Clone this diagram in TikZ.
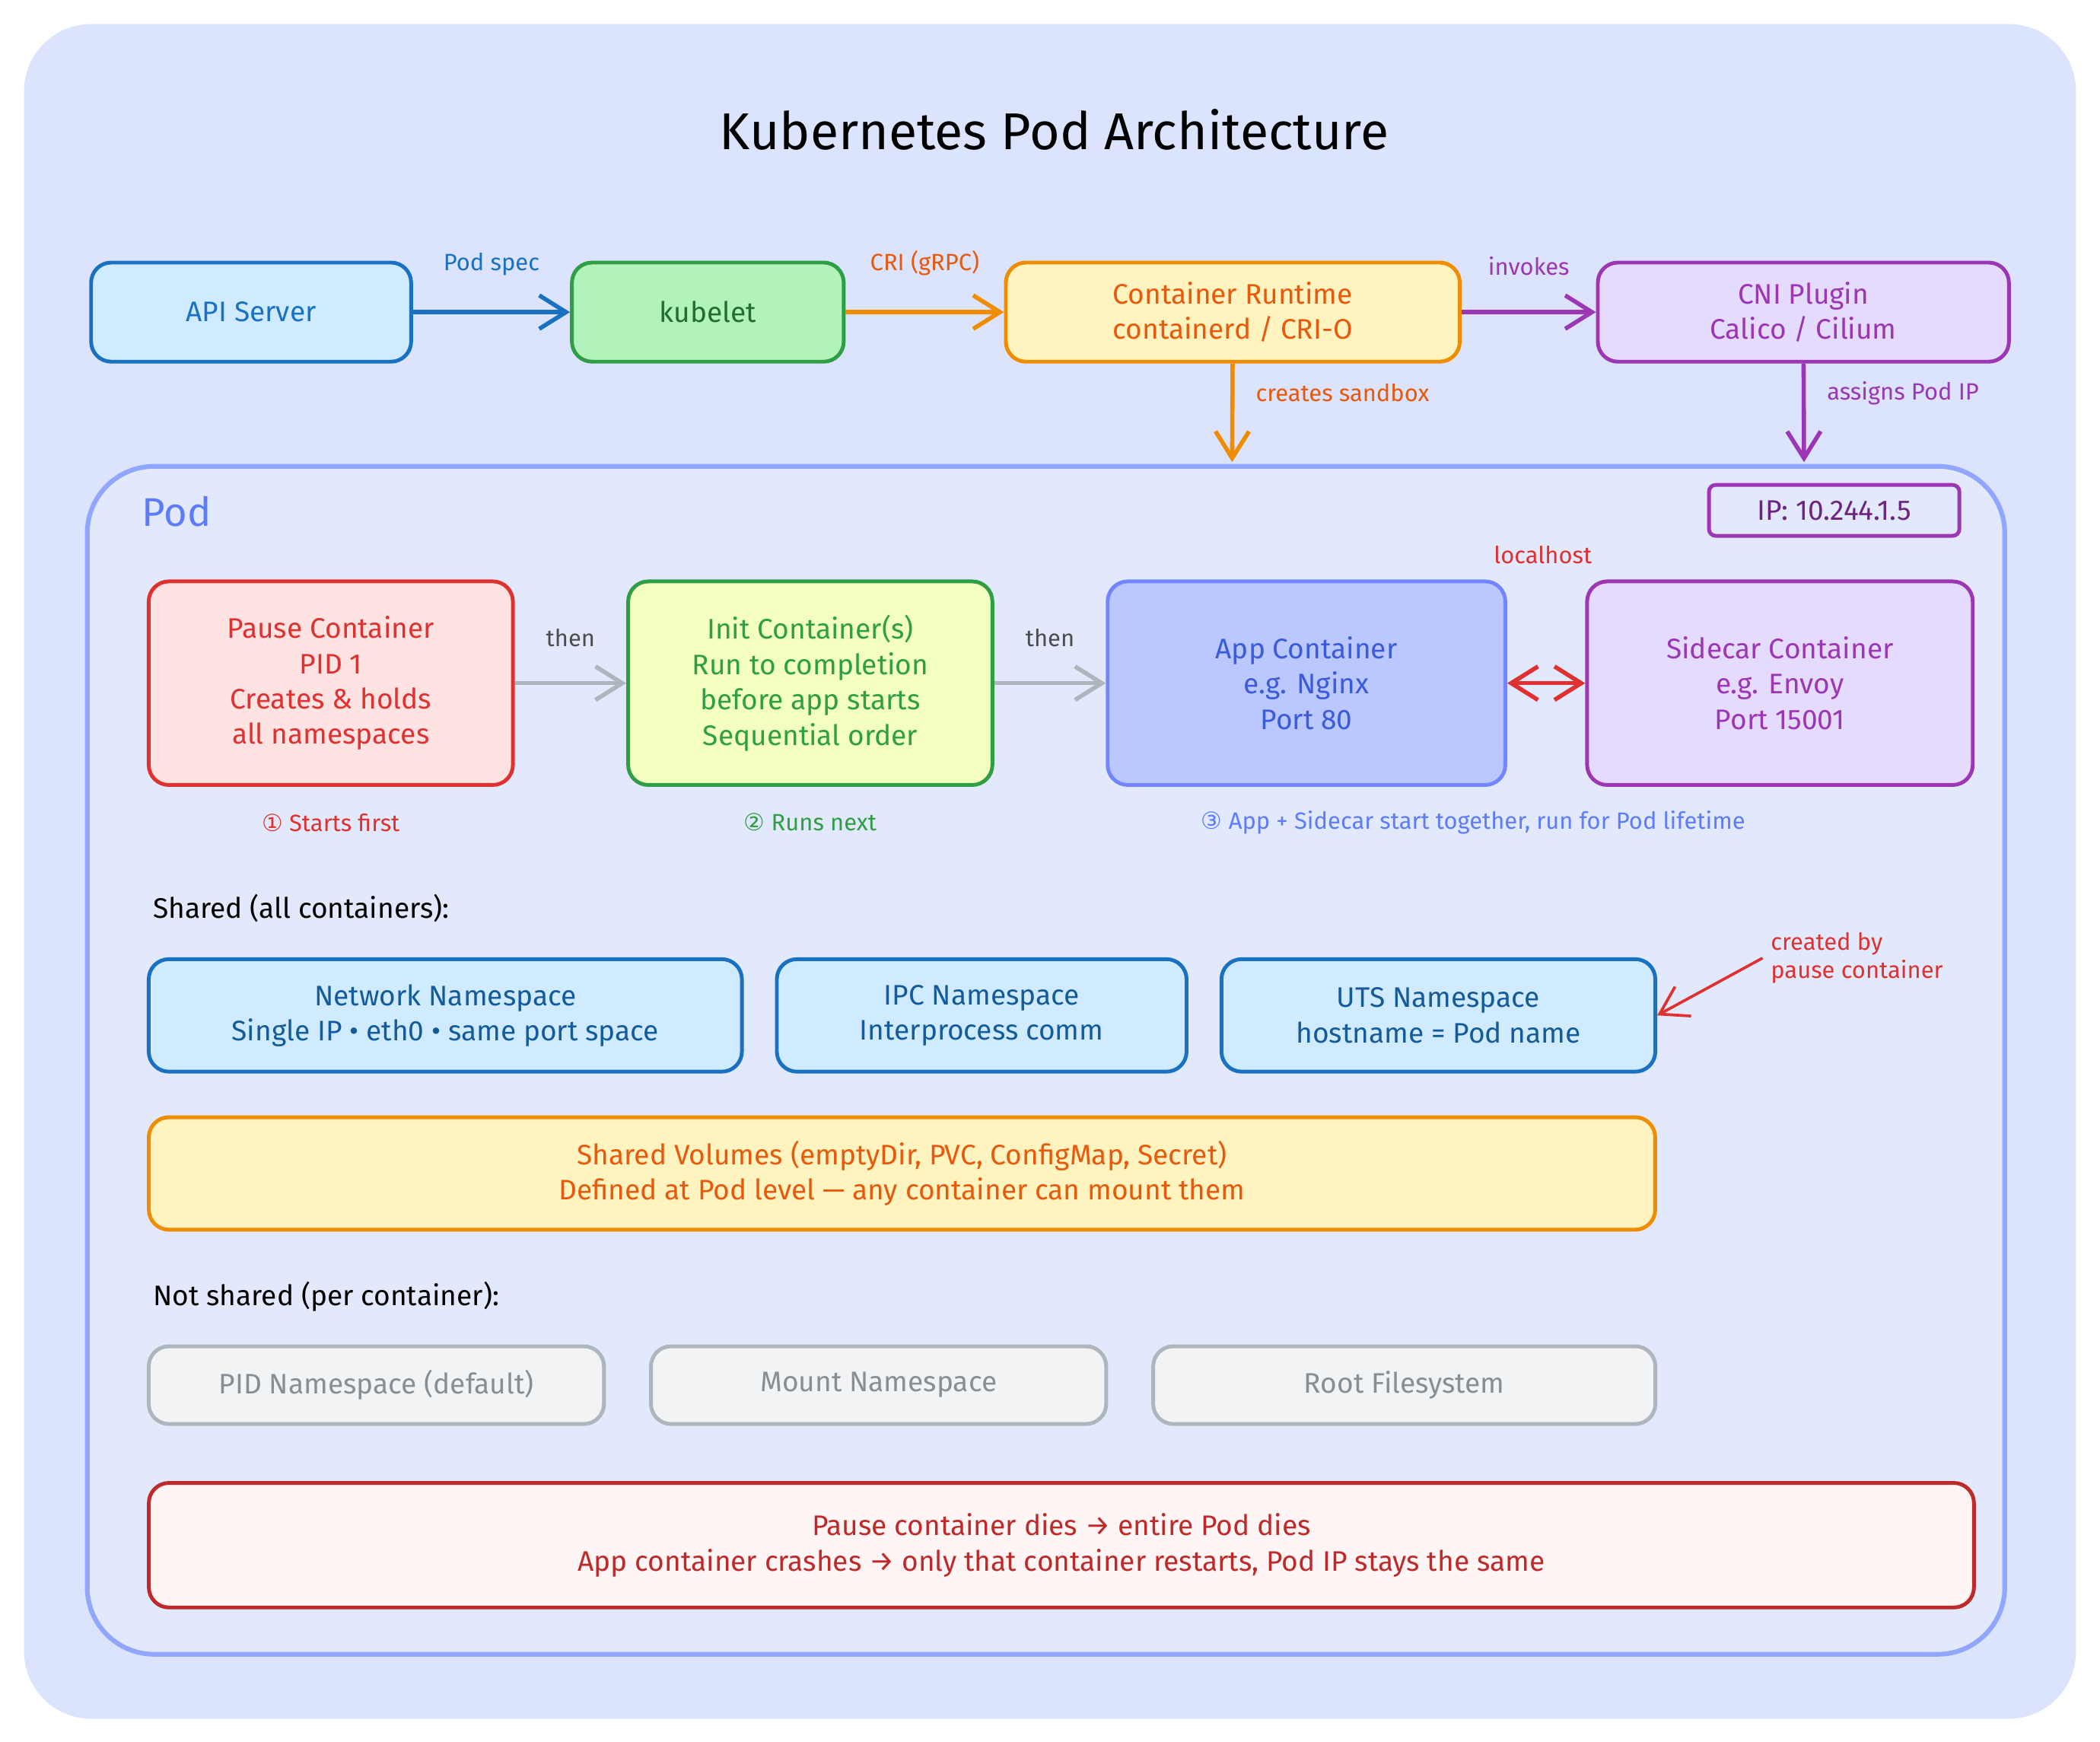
\documentclass[tikz,border=0pt]{standalone}
\usepackage{fontspec}
\setmainfont{Fira Sans}
\newfontfamily\circled{DejaVu Sans}
\usetikzlibrary{positioning,arrows.meta}
\definecolor{bgblue}{HTML}{DBE4FC}
\definecolor{podfill}{HTML}{E3E9FC}
\definecolor{poddraw}{HTML}{91A7FF}
\definecolor{podtext}{HTML}{5C7CFA}
\definecolor{kblue}{HTML}{1971C2}
\definecolor{kbluefill}{HTML}{D0EBFF}
\definecolor{kgreen}{HTML}{2F9E44}
\definecolor{kgreenfill}{HTML}{B2F2BB}
\definecolor{korange}{HTML}{E8590C}
\definecolor{korangedraw}{HTML}{F08C00}
\definecolor{kyellow}{HTML}{FFF3BF}
\definecolor{kpurple}{HTML}{9C36B5}
\definecolor{kpurplefill}{HTML}{E5DBFF}
\definecolor{kred}{HTML}{E03131}
\definecolor{kredfill}{HTML}{FFE3E3}
\definecolor{kgray}{HTML}{ADB5BD}
\definecolor{kgraytext}{HTML}{868E96}
\definecolor{kgrayfill}{HTML}{F1F3F5}
\definecolor{appfill}{HTML}{BAC8FF}
\definecolor{apptext}{HTML}{3B5BDB}
\tikzset{
  box/.style={draw, rounded corners=0.3cm, line width=1.6pt, align=center,
    font=\fontsize{12}{15}\selectfont},
  flow/.style={-{Straight Barb[length=4mm,width=5mm]}, line width=1.8pt},
  lbl/.style={font=\fontsize{10}{12}\selectfont}
}
\begin{document}
\begin{tikzpicture}[x=0.02cm, y=-0.02cm]
    \useasboundingbox (0,0) rectangle (1568,1300);
    \fill[bgblue, rounded corners=1cm] (18,18) rectangle (1550,1283);
    \node[font=\fontsize{22}{26}\selectfont] (title) at (787,97) {Kubernetes Pod Architecture};

    % control plane
    \node[box, draw=kblue, fill=kbluefill, text=kblue, minimum width=4.78cm, minimum height=1.48cm] (api) at (187.5,233) {API Server};
    \node[box, draw=kgreen, fill=kgreenfill, text=kgreen!70!black, minimum width=4.06cm, minimum height=1.48cm] (kubelet) at (528.5,233) {kubelet};
    \node[box, draw=korangedraw, fill=kyellow, text=korange, minimum width=6.78cm, minimum height=1.48cm] (runtime) at (920.5,233) {Container Runtime\\containerd / CRI-O};
    \node[box, draw=kpurple, fill=kpurplefill, text=kpurple, minimum width=6.14cm, minimum height=1.48cm] (cni) at (1346.5,233) {CNI Plugin\\Calico / Cilium};

    % pod
    \node[draw=poddraw, fill=podfill, line width=2pt, rounded corners=1cm, minimum width=28.64cm, minimum height=17.74cm] (pod) at (781,791.5) {};
    \node[text=podtext, font=\fontsize{17}{20}\selectfont] (podlabel) at (132,382) {Pod};
    \node[box, draw=kpurple, fill=podfill, text=kpurple!70!black, rounded corners=0.1cm, minimum width=3.74cm, minimum height=0.76cm] (ip) at (1369.5,381) {IP: 10.244.1.5};
    \coordinate (sandbox) at (920,345);
    \coordinate (podip) at (1347,345);

    \draw[flow, kblue] (api) -- node[above=4mm, lbl] {Pod spec} (kubelet);
    \draw[flow, korangedraw] (kubelet) -- node[above=4mm, lbl, text=korange] {CRI (gRPC)} (runtime);
    \draw[flow, kpurple] (runtime) -- node[above=4mm, lbl] {invokes} (cni);
    \draw[flow, korangedraw] (runtime) -- node[right=2mm, pos=0.3, lbl, text=korange] {creates sandbox} (sandbox);
    \draw[flow, kpurple] (cni) -- node[right=2mm, pos=0.3, lbl] {assigns Pod IP} (podip);

    % containers
    \node[box, draw=kred, fill=kredfill, text=kred, minimum width=5.44cm, minimum height=3.04cm] (pause) at (247,510) {Pause Container\\PID 1\\Creates \& holds\\all namespaces};
    \node[box, draw=kgreen, fill=green!20!yellow!25, text=kgreen, minimum width=5.44cm, minimum height=3.04cm] (init) at (605,510) {Init Container(s)\\Run to completion\\before app starts\\Sequential order};
    \node[box, draw=poddraw!80!blue, fill=appfill, text=apptext, minimum width=5.94cm, minimum height=3.04cm] (app) at (975.5,510) {App Container\\e.g. Nginx\\Port 80};
    \node[box, draw=kpurple, fill=kpurplefill, text=kpurple, minimum width=5.76cm, minimum height=3.04cm] (sidecar) at (1329,510) {Sidecar Container\\e.g. Envoy\\Port 15001};

    \draw[flow, kgray] (pause) -- node[above=4mm, lbl, text=black!70] {then} (init);
    \draw[flow, kgray] (init) -- node[above=4mm, lbl, text=black!70] {then} (app);
    \draw[{Straight Barb[length=4mm,width=5mm]}-{Straight Barb[length=4mm,width=5mm]}, line width=1.8pt, kred] (app) -- (sidecar);
    \node[lbl, text=kred] (localhost) at (1152,414) {localhost};

    \node[lbl, text=kred] (cap1) at (247,614) {{\circled ①} Starts first};
    \node[lbl, text=kgreen] (cap2) at (605,614) {{\circled ②} Runs next};
    \node[lbl, text=podtext] (cap3) at (1100,614) {{\circled ③} App + Sidecar start together, run for Pod lifetime};

    % shared
    \node[anchor=west, font=\fontsize{12}{15}\selectfont] (shared) at (108,678) {Shared (all containers):};
    \node[box, draw=kblue, fill=kbluefill, text=kblue!80!black, minimum width=8.86cm, minimum height=1.68cm] (net) at (332.5,758) {Network Namespace\\Single IP • eth0 • same port space};
    \node[box, draw=kblue, fill=kbluefill, text=kblue!80!black, minimum width=6.12cm, minimum height=1.68cm] (ipc) at (733,758) {IPC Namespace\\Interprocess comm};
    \node[box, draw=kblue, fill=kbluefill, text=kblue!80!black, minimum width=6.48cm, minimum height=1.68cm] (uts) at (1074,758) {UTS Namespace\\hostname = Pod name};
    \node[lbl, text=kred, anchor=north west, align=left] (createdby) at (1316,690) {created by\\pause container};
    \draw[flow, kred, line width=1.2pt] (createdby.west) -- (uts.east);

    \node[box, draw=korangedraw, fill=kyellow, text=korange, minimum width=22.5cm, minimum height=1.68cm] (volumes) at (673.5,876) {Shared Volumes (emptyDir, PVC, ConfigMap, Secret)\\Defined at Pod level — any container can mount them};

    % not shared
    \node[anchor=west, font=\fontsize{12}{15}\selectfont] (notshared) at (108,968) {Not shared (per container):};
    \node[box, draw=kgray, fill=kgrayfill, text=kgraytext, minimum width=6.8cm, minimum height=1.16cm] (pidns) at (281,1034) {PID Namespace (default)};
    \node[box, draw=kgray, fill=kgrayfill, text=kgraytext, minimum width=6.8cm, minimum height=1.16cm] (mntns) at (656,1034) {Mount Namespace};
    \node[box, draw=kgray, fill=kgrayfill, text=kgraytext, minimum width=7.5cm, minimum height=1.16cm] (rootfs) at (1048.5,1034) {Root Filesystem};

    \node[box, draw=kred!85!black, fill=red!4, text=kred!85!black, minimum width=27.26cm, minimum height=1.86cm] (warn) at (792.5,1153.5) {Pause container dies → entire Pod dies\\App container crashes → only that container restarts, Pod IP stays the same};
\end{tikzpicture}
\end{document}
